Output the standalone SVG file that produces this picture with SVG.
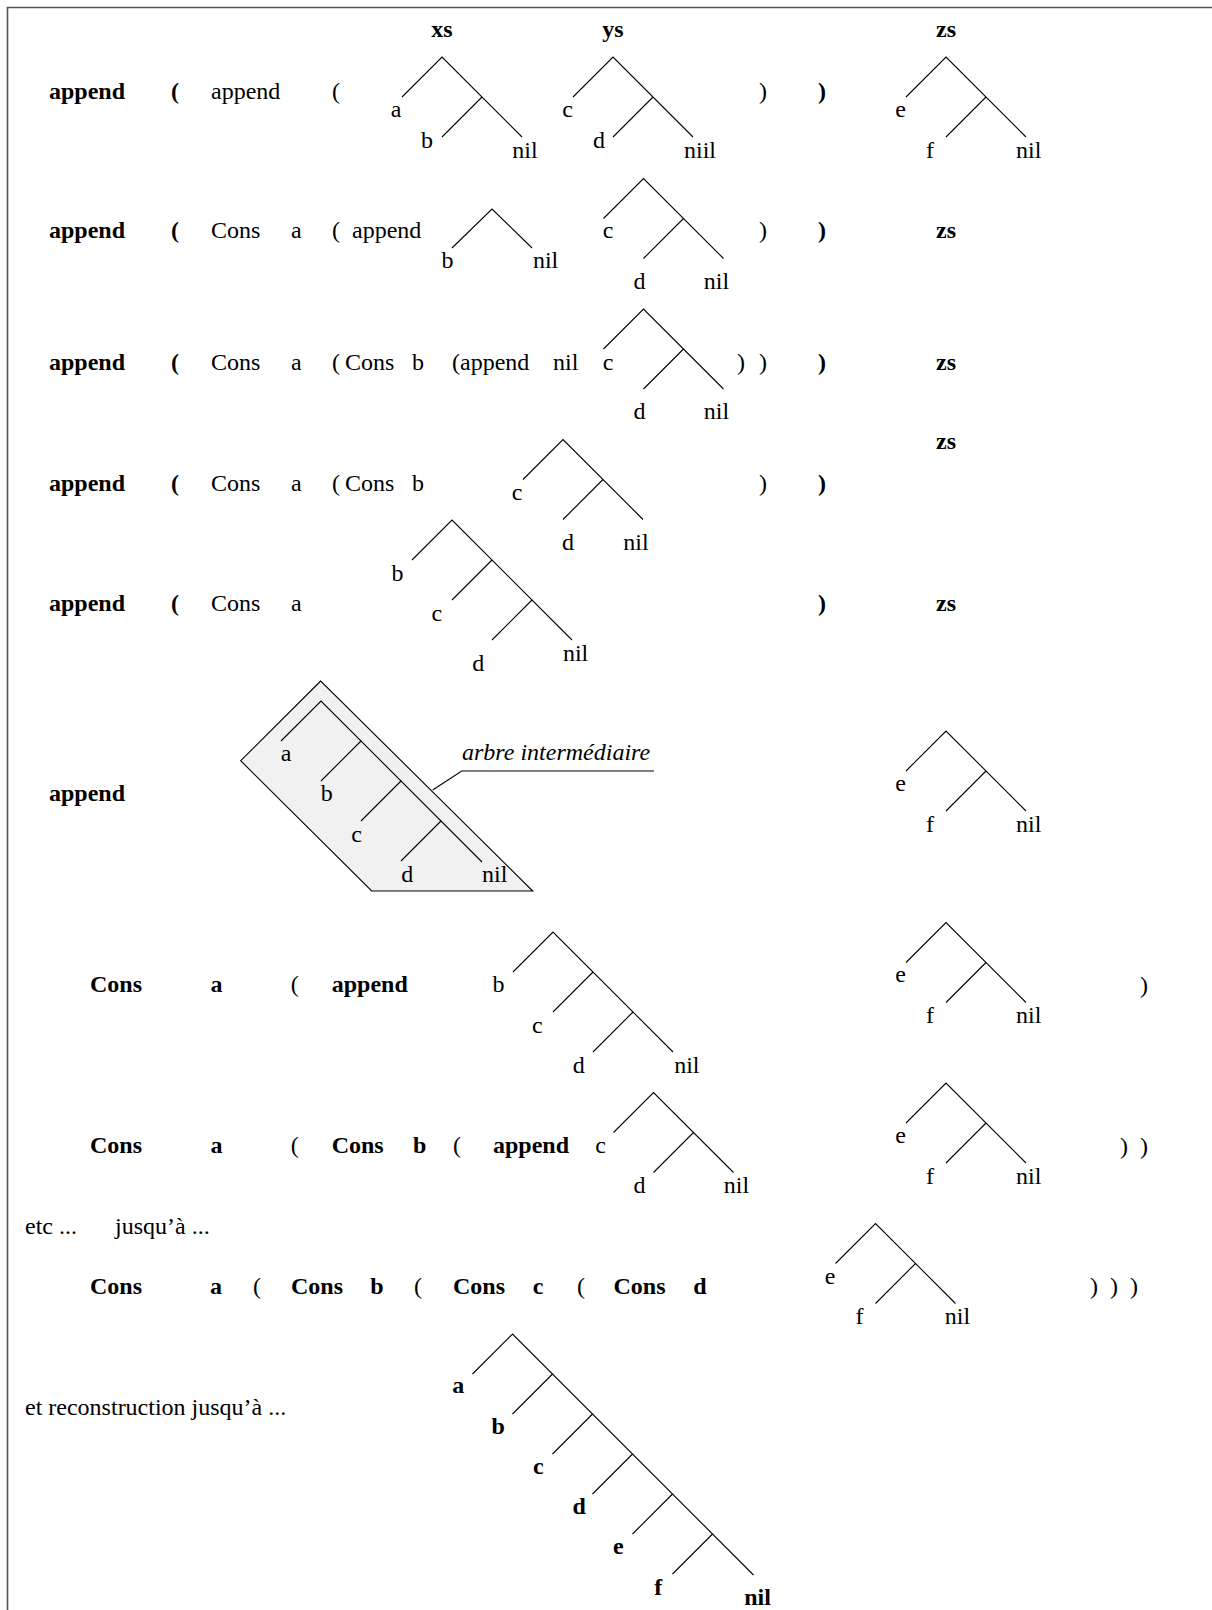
<svg xmlns="http://www.w3.org/2000/svg" width="1212" height="1610" viewBox="0 0 1212 1610">
<style>
text{font-family:"Liberation Serif","Times New Roman",serif;font-size:24px;fill:#000}
.b{font-weight:bold}
.i{font-style:italic}
.m{text-anchor:middle}
.t{fill:none;stroke:#000;stroke-width:1.1}
.frame{fill:none;stroke:#555;stroke-width:1.6}
</style>
<rect width="1212" height="1610" fill="#fff"/>
<path class="frame" d="M7.5,1612 V7.5 H1214"/>

<g id="row1">
<text class="b" x="49" y="99">append</text>
<text class="b" x="171" y="99">(</text>
<text x="211" y="99">append</text>
<text x="332" y="99">(</text>
<text x="759" y="99">)</text>
<text class="b" x="818" y="99">)</text>
</g>
<g id="tree-xs">
<text class="b m" x="442" y="37">xs</text>
<path class="t" d="M402,97 L442,57 L522,137 M482,97 L442,137"/>
<text class="m" x="396" y="117">a</text>
<text class="m" x="427" y="148">b</text>
<text class="m" x="525" y="158">nil</text>
</g>
<g id="tree-ys">
<text class="b m" x="613" y="37">ys</text>
<path class="t" d="M573,97 L613,57 L693,137 M653,97 L613,137"/>
<text class="m" x="567.5" y="117">c</text>
<text class="m" x="599" y="148">d</text>
<text class="m" x="700" y="158">niil</text>
</g>
<g id="tree-zs">
<text class="b m" x="946" y="37">zs</text>
<path class="t" d="M906,97 L946,57 L1026,137 M986,97 L946,137"/>
<text class="m" x="900.5" y="117">e</text>
<text class="m" x="930" y="158">f</text>
<text class="m" x="1028.7" y="158">nil</text>
</g>

<g id="row2">
<text class="b" x="49" y="238">append</text>
<text class="b" x="171" y="238">(</text>
<text x="211" y="238">Cons</text>
<text x="291" y="238">a</text>
<text x="332" y="238">(</text>
<text x="352" y="238">append</text>
<path class="t" d="M452,248 L492,209 L532,248"/>
<text class="m" x="447.6" y="268">b</text>
<text class="m" x="545.6" y="268">nil</text>
<path class="t" d="M603.5,218.5 L643.5,178.5 L723.5,258.5 M683.5,218.5 L643.5,258.5"/>
<text class="m" x="608" y="238">c</text>
<text class="m" x="639.6" y="289">d</text>
<text class="m" x="716.4" y="289">nil</text>
<text x="759" y="238">)</text>
<text class="b" x="818" y="238">)</text>
<text class="b m" x="946" y="238">zs</text>
</g>

<g id="row3">
<text class="b" x="49" y="370">append</text>
<text class="b" x="171" y="370">(</text>
<text x="211" y="370">Cons</text>
<text x="291" y="370">a</text>
<text x="332" y="370">(</text>
<text x="345" y="370">Cons</text>
<text x="412" y="370">b</text>
<text x="452" y="370">(append</text>
<text x="553" y="370">nil</text>
<path class="t" d="M603.5,349 L643.5,309 L723.5,389 M683.5,349 L643.5,389"/>
<text class="m" x="608" y="370">c</text>
<text class="m" x="639.6" y="419">d</text>
<text class="m" x="716.4" y="419">nil</text>
<text x="737" y="370">)</text>
<text x="759" y="370">)</text>
<text class="b" x="818" y="370">)</text>
<text class="b m" x="946" y="370">zs</text>
</g>

<g id="row4">
<text class="b" x="49" y="491">append</text>
<text class="b" x="171" y="491">(</text>
<text x="211" y="491">Cons</text>
<text x="291" y="491">a</text>
<text x="332" y="491">(</text>
<text x="345" y="491">Cons</text>
<text x="412" y="491">b</text>
<path class="t" d="M523,479.5 L563,439.5 L643,519.5 M603,479.5 L563,519.5"/>
<text class="m" x="517" y="500">c</text>
<text class="m" x="568" y="550">d</text>
<text class="m" x="636" y="550">nil</text>
<text x="759" y="491">)</text>
<text class="b" x="818" y="491">)</text>
<text class="b m" x="946" y="449">zs</text>
</g>

<g id="row5">
<text class="b" x="49" y="611">append</text>
<text class="b" x="171" y="611">(</text>
<text x="211" y="611">Cons</text>
<text x="291" y="611">a</text>
<path class="t" d="M412,560 L452,520 L572,640 M492,560 L452,600 M532,600 L492,640"/>
<text class="m" x="397.4" y="581">b</text>
<text class="m" x="436.8" y="621">c</text>
<text class="m" x="478.2" y="671">d</text>
<text class="m" x="575.6" y="661">nil</text>
<text class="b" x="818" y="611">)</text>
<text class="b m" x="946" y="611">zs</text>
</g>

<g id="row6">
<text class="b" x="49" y="801">append</text>
</g>
<g id="arbre-intermediaire">
<polygon points="320.7,681 240.7,760.7 371.7,891 532.7,891" fill="#f1f1f1" stroke="#000" stroke-width="1.1"/>
<path class="t" d="M281,741 L321,701 L482,862 M361,741 L321,781 M401,781 L361,821 M441,821 L401,861"/>
<text class="m" x="286" y="761">a</text>
<text class="m" x="326.7" y="801">b</text>
<text class="m" x="356.7" y="842">c</text>
<text class="m" x="407.3" y="882">d</text>
<text class="m" x="494.7" y="882">nil</text>
</g>
<g id="label-arbre">
<text class="i" x="462" y="760">arbre intermédiaire</text>
</g>
<g id="tree-zs-6">
<path class="t" d="M906,771 L946,731 L1026,811 M986,771 L946,811"/>
<text class="m" x="900.5" y="791">e</text>
<text class="m" x="930" y="831.5">f</text>
<text class="m" x="1028.7" y="831.5">nil</text>
</g>

<g id="row7">
<text class="b" x="90" y="992">Cons</text>
<text class="b m" x="216.5" y="992">a</text>
<text x="290.7" y="992">(</text>
<text class="b" x="331.7" y="992">append</text>
<path class="t" d="M513,972 L553,932 L673,1052 M593,972 L553,1012 M633,1012 L593,1052"/>
<text class="m" x="498.6" y="992">b</text>
<text class="m" x="537.3" y="1033">c</text>
<text class="m" x="578.7" y="1073">d</text>
<text class="m" x="686.8" y="1073">nil</text>
<path class="t" d="M906,962.5 L946,922.5 L1026,1002.5 M986,962.5 L946,1002.5"/>
<text class="m" x="900.5" y="982">e</text>
<text class="m" x="930" y="1023">f</text>
<text class="m" x="1028.7" y="1023">nil</text>
<text x="1140" y="993">)</text>
</g>

<g id="row8">
<text class="b" x="90" y="1153">Cons</text>
<text class="b m" x="216.5" y="1153">a</text>
<text x="290.7" y="1153">(</text>
<text class="b" x="331.7" y="1153">Cons</text>
<text class="b" x="413" y="1153">b</text>
<text x="453" y="1153">(</text>
<text class="b" x="493" y="1153">append</text>
<text x="595.3" y="1153">c</text>
<path class="t" d="M613.5,1132.5 L653.5,1092.5 L733.5,1172.5 M693.5,1132.5 L653.5,1172.5"/>
<text class="m" x="639.6" y="1193">d</text>
<text class="m" x="736.5" y="1193">nil</text>
<path class="t" d="M906,1123 L946,1083 L1026,1163 M986,1123 L946,1163"/>
<text class="m" x="900.5" y="1143">e</text>
<text class="m" x="930" y="1183.5">f</text>
<text class="m" x="1028.7" y="1183.5">nil</text>
<text x="1120" y="1154">)</text>
<text x="1140" y="1154">)</text>
</g>

<g id="row9">
<text x="25" y="1234">etc ...</text>
<text x="115" y="1234">jusqu’à ...</text>
</g>

<g id="row10">
<text class="b" x="90" y="1294">Cons</text>
<text class="b m" x="216" y="1294">a</text>
<text x="253" y="1294">(</text>
<text class="b" x="291" y="1294">Cons</text>
<text class="b m" x="377" y="1294">b</text>
<text x="414" y="1294">(</text>
<text class="b" x="453" y="1294">Cons</text>
<text class="b m" x="538" y="1294">c</text>
<text x="577" y="1294">(</text>
<text class="b" x="613.5" y="1294">Cons</text>
<text class="b m" x="700" y="1294">d</text>
<path class="t" d="M835.5,1263.5 L875.5,1223.5 L955.5,1303.5 M915.5,1263.5 L875.5,1303.5"/>
<text class="m" x="830.2" y="1283.5">e</text>
<text class="m" x="859.5" y="1324">f</text>
<text class="m" x="957.5" y="1324">nil</text>
<text x="1090" y="1294">)</text>
<text x="1110" y="1294">)</text>
<text x="1130" y="1294">)</text>
</g>

<g id="row11">
<text x="25" y="1415">et reconstruction jusqu’à ...</text>
</g>
<g id="tree-final">
<path class="t" d="M472.5,1374 L512.5,1334 L753.5,1575 M552.5,1374 L512.5,1414 M592.5,1414 L552.5,1454 M632.5,1454 L592.5,1494 M672.5,1494 L632.5,1534 M712.5,1534 L672.5,1574"/>
<text class="b m" x="458.3" y="1393">a</text>
<text class="b m" x="498.3" y="1434">b</text>
<text class="b m" x="538.3" y="1474">c</text>
<text class="b m" x="579.3" y="1514">d</text>
<text class="b m" x="618.3" y="1554">e</text>
<text class="b m" x="658.3" y="1595">f</text>
<text class="b m" x="757.5" y="1605">nil</text>
</g>

<g id="connectors">
<path class="t" d="M432.7,790 L461.7,771 L654,771"/>
</g>
</svg>
